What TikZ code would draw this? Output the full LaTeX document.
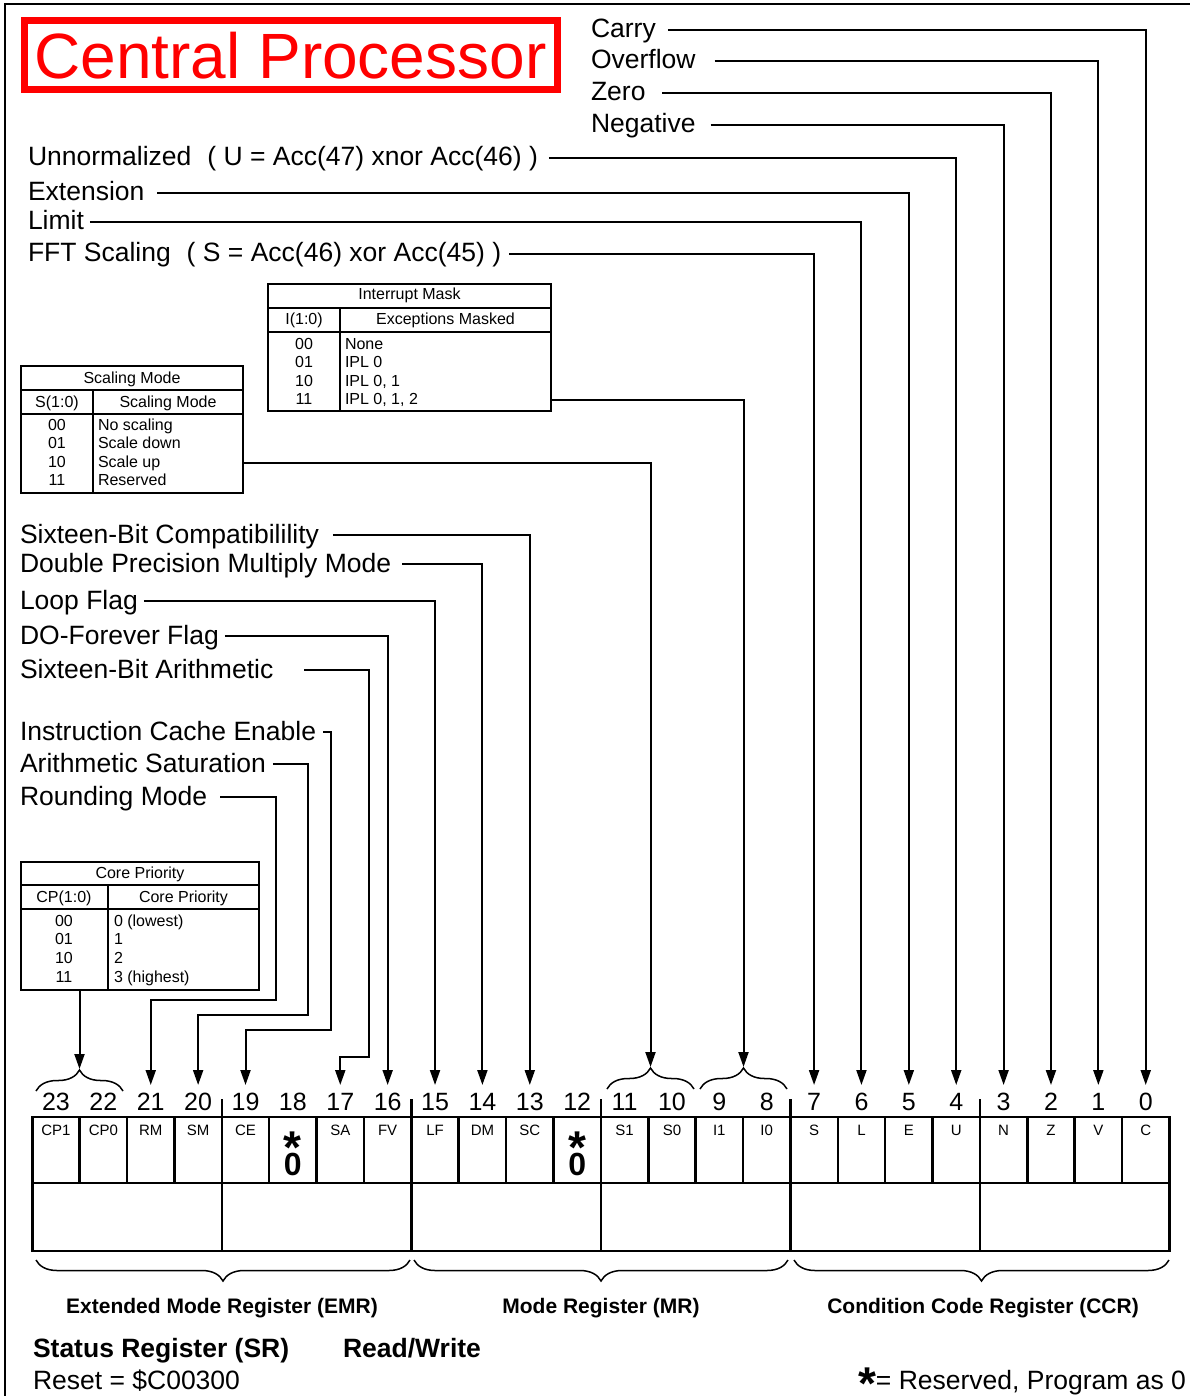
\documentclass[tikz,border=0pt]{standalone}
\usepackage{fontspec}
\setmainfont{Liberation Sans}
\usetikzlibrary{positioning, arrows.meta, decorations.pathreplacing}
\definecolor{cpured}{RGB}{255,0,0}
\newcommand{\bigstar}[1]{\raisebox{#1}{\bfseries\fontsize{46}{46}\selectfont *}}

\begin{document}
\begin{tikzpicture}[x=1pt, y=-1pt,
  every node/.style={inner sep=0pt, outer sep=0pt},
  lbl/.style={font=\fontsize{26.5}{30}\selectfont, anchor=west,
              text height=20pt, text depth=4pt},
  tab/.style={draw, line width=2pt, anchor=north west},
  tline/.style={line width=2pt},
  ttxt/.style={font=\fontsize{16}{18}\selectfont, anchor=base},
  cell/.style={draw, line width=2.5pt, minimum width=47.38pt, minimum height=66pt},
  grpbox/.style={draw, line width=2.5pt, minimum width=189.52pt, minimum height=68pt},
  cellname/.style={font=\fontsize{15}{17}\selectfont, anchor=north},
  bitno/.style={font=\fontsize{25}{28}\selectfont, anchor=base,
                text height=25pt, text depth=0pt},
  resv/.style={font=\bfseries\fontsize{32}{34}\selectfont, anchor=base},
  grp/.style={font=\bfseries\fontsize{21}{24}\selectfont, anchor=base},
  foot/.style={font=\fontsize{26.5}{30}\selectfont, anchor=base west},
  footb/.style={font=\bfseries\fontsize{26.5}{30}\selectfont, anchor=base west},
  conn/.style={line width=2pt},
  arr/.style={conn, -{Triangle[length=15pt, width=10pt]}},
  brc/.style={decorate, decoration={brace, amplitude=21pt}, line width=1.5pt}]

\useasboundingbox (0,0) rectangle (1190,1396);
\draw[line width=2.5pt] (5,1396) -- (5,4) -- (1190,4);

% title
\node[draw=cpured, line width=7pt, text=cpured, font=\fontsize{64}{70}\selectfont,
      minimum width=533pt, minimum height=69pt] (title) at (290.5,55.5) {Central Processor};

% register cells
\foreach \b/\t [count=\i from 0] in {23/CP1,22/CP0,21/RM,20/SM,19/CE,18/,17/SA,16/FV,
    15/LF,14/DM,13/SC,12/,11/S1,10/S0,9/I1,8/I0,7/S,6/L,5/E,4/U,3/N,2/Z,1/V,0/C}{
  \node[cell] (c\b) at ({32.3+47.38*(\i+0.5)},1150) {};
  \node[cellname] at ([yshift=-8pt]c\b.north) {\t};
  \node[bitno] (n\b) at ({32.3+47.38*(\i+0.5)},1110) {\b};
}
\foreach \g in {0,...,5}
  \node[grpbox] (g\g) at ({32.3+189.52*(\g+0.5)},1217) {};
\foreach \b in {19,15,11,7,3}
  \draw[line width=2.5pt] (c\b.north west) -- ++(0,-18);
\foreach \b in {18,12}
  \node[resv] (r\b) at ([yshift=-58pt]c\b.north)
    {\makebox[0pt]{\bigstar{12pt}}\makebox[0pt]{0}};

% braces
\draw[brc] (36,1091) -- (123,1091);
\draw[brc] (607,1089) -- (694,1089);
\draw[brc] (700,1089) -- (787,1089);
\coordinate (b2322) at (79.5,1069);
\coordinate (b1110) at (650.5,1067);
\coordinate (b98) at (743.5,1067);
\draw[brc] (410,1260) -- (36,1260);
\draw[brc] (788,1260) -- (414,1260);
\draw[brc] (1169,1260) -- (794,1260);

\node[grp] (lemr) at (222,1313) {Extended Mode Register (EMR)};
\node[grp] (lmr) at (601,1313) {Mode Register (MR)};
\node[grp] (lccr) at (983,1313) {Condition Code Register (CCR)};

% CCR labels
\node[lbl] (lcarry) at (591,30) {Carry};
\node[lbl] (lovf) at (591,61) {Overflow};
\node[lbl] (lzero) at (591,93) {Zero};
\node[lbl] (lneg) at (591,125) {Negative};
\node[lbl] (lunn) at (28,158) {Unnormalized\hspace{0.6em}( U = Acc(47) xnor Acc(46) )};
\node[lbl] (lext) at (28,193) {Extension};
\node[lbl] (llim) at (28,222) {Limit};
\node[lbl] (lfft) at (28,254) {FFT Scaling\hspace{0.6em}( S = Acc(46) xor Acc(45) )};
\draw[arr] ([xshift=12pt]lcarry.east) -| (n0);
\draw[arr] ([xshift=19pt]lovf.east) -| (n1);
\draw[arr] ([xshift=17pt]lzero.east) -| (n2);
\draw[arr] ([xshift=15pt]lneg.east) -| (n3);
\draw[arr] ([xshift=11pt]lunn.east) -| (n4);
\draw[arr] ([xshift=13pt]lext.east) -| (n5);
\draw[arr] ([xshift=6pt]llim.east) -| (n6);
\draw[arr] ([xshift=8pt]lfft.east) -| (n7);

% interrupt mask table
\node[tab, minimum width=283pt, minimum height=127pt] (imtab) at (268,284) {};
\draw[tline] (268,308) -- (551,308) (268,332) -- (551,332) (340,308) -- (340,411);
\node[ttxt] at (409.5,300) {Interrupt Mask};
\node[ttxt] at (304,324) {I(1:0)};
\node[ttxt] at (445.5,324) {Exceptions Masked};
\foreach \v/\d [count=\k from 0] in {00/None,01/IPL 0,10/{IPL 0, 1},11/{IPL 0, 1, 2}}{
  \node[ttxt] at (304,{349+18.5*\k}) {\v};
  \node[ttxt, anchor=base west] (im\k) at (345,{349+18.5*\k}) {\d};
}
\draw[arr] (imtab.east |- im3) -| (b98);

% scaling mode table
\node[tab, minimum width=222pt, minimum height=127pt] (smtab) at (21,366) {};
\draw[tline] (21,390) -- (243,390) (21,414) -- (243,414) (93,390) -- (93,493);
\node[ttxt] at (132,383) {Scaling Mode};
\node[ttxt] at (57,407) {S(1:0)};
\node[ttxt] at (168,407) {Scaling Mode};
\foreach \v/\d [count=\k from 0] in {00/No scaling,01/Scale down,10/Scale up,11/Reserved}{
  \node[ttxt] at (57,{430+18.6*\k}) {\v};
  \node[ttxt, anchor=base west] (sm\k) at (98,{430+18.6*\k}) {\d};
}
\draw[arr] (smtab.east |- sm2) -| (b1110);

% MR labels
\node[lbl] (lsbc) at (20,535) {Sixteen-Bit Compatibilility};
\node[lbl] (ldpm) at (20,564) {Double Precision Multiply Mode};
\node[lbl] (llf) at (20,601) {Loop Flag};
\node[lbl] (ldo) at (20,636) {DO-Forever Flag};
\node[lbl] (lsba) at (20,670) {Sixteen-Bit Arithmetic};
\draw[arr] ([xshift=14pt]lsbc.east) -| (n13);
\draw[arr] ([xshift=11pt]ldpm.east) -| (n14);
\draw[arr] ([xshift=6pt]llf.east) -| (n15);
\draw[arr] ([xshift=6pt]ldo.east) -| (n16);
\coordinate (jsa) at (369,1057);
\draw[arr] ([xshift=31pt]lsba.east) -| (jsa) -| (n17);

% EMR labels
\node[lbl] (lice) at (20,732) {Instruction Cache Enable};
\node[lbl] (las) at (20,764) {Arithmetic Saturation};
\node[lbl] (lrm) at (20,797) {Rounding Mode};
\coordinate (jce) at (331,1030);
\coordinate (jsm) at (308,1015);
\coordinate (jrm) at (276,1000);
\draw[arr] ([xshift=7pt]lice.east) -| (jce) -| (n19);
\draw[arr] ([xshift=7pt]las.east) -| (jsm) -| (n20);
\draw[arr] ([xshift=13pt]lrm.east) -| (jrm) -| (n21);

% core priority table
\node[tab, minimum width=238pt, minimum height=128pt] (cptab) at (21,862) {};
\draw[tline] (21,885) -- (259,885) (21,909) -- (259,909) (108,885) -- (108,990);
\node[ttxt] at (140,878) {Core Priority};
\node[ttxt] at (64,902) {CP(1:0)};
\node[ttxt] at (183.5,902) {Core Priority};
\foreach \v/\d [count=\k from 0] in {00/0 (lowest),01/1,10/2,11/3 (highest)}{
  \node[ttxt] at (64,{926+18.7*\k}) {\v};
  \node[ttxt, anchor=base west] (cp\k) at (114,{926+18.7*\k}) {\d};
}
\draw[arr] (cptab.south -| b2322) -- (b2322);

% footer
\node[footb] (lsr) at (33,1357) {Status Register (SR)};
\node[footb] (lrw) at (343,1357) {Read/Write};
\node[foot] (lreset) at (33,1389) {Reset = \$C00300};
\node[foot, anchor=base east] (lnote) at (1186,1389) {\bigstar{-10pt}= Reserved, Program as 0};
\end{tikzpicture}
\end{document}
